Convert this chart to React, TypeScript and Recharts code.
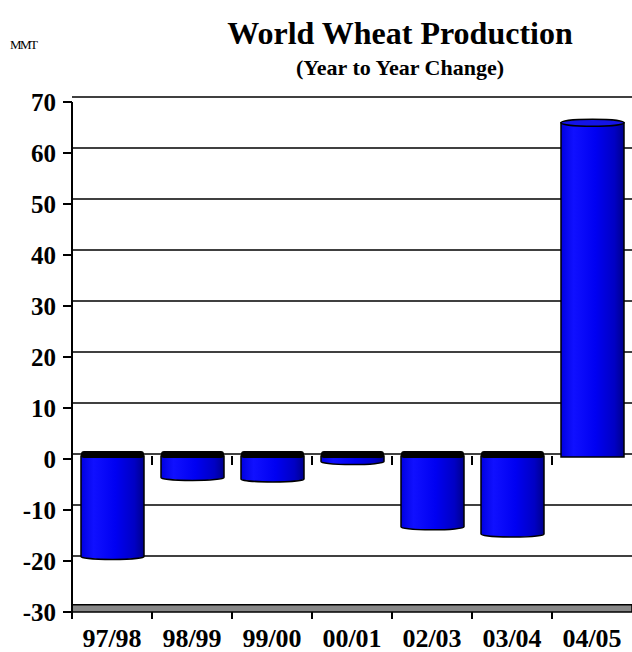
import { BarChart, Bar, XAxis, YAxis, CartesianGrid, ReferenceArea, ReferenceLine } from 'recharts';

const seasons = ['97/98', '98/99', '99/00', '00/01', '02/03', '03/04', '04/05'];
const changeMmt = [-19.5, -4.0, -4.3, -0.9, -13.7, -15.1, 66.5];
const yTicks = [-30, -20, -10, 0, 10, 20, 30, 40, 50, 60, 70];

const data = seasons.map((season, i) => ({ season, change: changeMmt[i] }));

const FONT = '"Liberation Serif", "Times New Roman", serif';

// cylinder-ish bar: gradient body, dark cap on the zero plane for negatives
const CylinderBar = (props: any) => {
  const { x, y, width, height, value } = props;
  if (width == null || height == null) return null;
  const top = Math.min(y, y + height);
  const bottom = Math.max(y, y + height);
  const rx = width / 2;
  if (value < 0) {
    return (
      <g>
        <path
          d={`M${x},${top - 3} L${x},${bottom - 2} A${rx},3 0 0 0 ${x + width},${bottom - 2} L${x + width},${top - 3} Z`}
          fill="url(#cyl)"
          stroke="#000"
          strokeWidth={1.5}
        />
        <rect x={x} y={top - 8} width={width} height={7} rx={3} fill="#000" />
      </g>
    );
  }
  return (
    <g>
      <path
        d={`M${x},${top + 3} L${x},${bottom - 2} L${x + width},${bottom - 2} L${x + width},${top + 3} Z`}
        fill="url(#cyl)"
        stroke="#000"
        strokeWidth={1.5}
      />
      <ellipse cx={x + rx} cy={top + 3} rx={rx} ry={3.5} fill="#1414e6" stroke="#000" strokeWidth={1.5} />
    </g>
  );
};

const SeasonTick = (props: any) => {
  const { x, y, payload } = props;
  const off = payload?.offset || 40;
  return (
    <g>
      <line x1={x - off} x2={x - off} y1={y} y2={y + 7} stroke="#000" strokeWidth={2} />
      <text x={x} y={y + 35} textAnchor="middle" fontFamily={FONT} fontWeight="bold" fontSize={26} fill="#000">
        {payload.value}
      </text>
    </g>
  );
};

const GridLine = (p: any) => (
  <line key={`g-${p.y1}`} x1={p.x1} x2={p.x2} y1={p.y1 - 5} y2={p.y2 - 5} stroke="#000" strokeWidth={1.5} />
);

// little ticks hanging under the zero line, one per category boundary
const ZeroTicks = (p: any) => {
  const n = seasons.length;
  const step = (p.x2 - p.x1) / n;
  return (
    <g>
      {seasons.slice(1).map((s, i) => (
        <line key={s} x1={p.x1 + step * (i + 1)} x2={p.x1 + step * (i + 1)} y1={p.y1 - 3} y2={p.y1 + 6} stroke="#000" strokeWidth={2} />
      ))}
    </g>
  );
};

export default function App() {
  return (
    <div style={{ position: 'absolute', left: 0, top: 0, width: 632, height: 652, background: '#fff', overflow: 'hidden', fontFamily: FONT }}>
      <div style={{ position: 'absolute', left: 10, top: 37, fontSize: 13, letterSpacing: -1.5, color: '#000' }}>MMT</div>
      <div style={{ position: 'absolute', left: 400, top: 15, transform: 'translateX(-50%)', whiteSpace: 'nowrap', fontSize: 32, fontWeight: 'bold', lineHeight: '36px' }}>
        World Wheat Production
      </div>
      <div style={{ position: 'absolute', left: 400, top: 56, transform: 'translateX(-50%)', whiteSpace: 'nowrap', fontSize: 22, fontWeight: 'bold', lineHeight: '24px' }}>
        (Year to Year Change)
      </div>
      <BarChart width={632} height={652} data={data} margin={{ top: 102, right: 0, left: 0, bottom: 0 }} barSize={63}>
        <defs>
          <linearGradient id="cyl" x1="0" y1="0" x2="1" y2="0">
            <stop offset="0" stopColor="#0000e0" />
            <stop offset="0.2" stopColor="#1010ff" />
            <stop offset="0.55" stopColor="#0000f2" />
            <stop offset="0.85" stopColor="#0000c4" />
            <stop offset="1" stopColor="#00008c" />
          </linearGradient>
        </defs>
        <CartesianGrid vertical={false} horizontal={GridLine} />
        <ReferenceArea y1={-30} y2={-28.6} fill="#888" fillOpacity={1} stroke="#000" strokeWidth={1.5} />
        <XAxis
          dataKey="season"
          height={40}
          tickSize={0}
          tickMargin={0}
          axisLine={false}
          tickLine={false}
          interval={0}
          tick={<SeasonTick />}
        />
        <YAxis
          domain={[-30, 70]}
          ticks={yTicks}
          width={72}
          tickSize={9}
          tickMargin={7}
          axisLine={{ stroke: '#000', strokeWidth: 2 }}
          tickLine={{ stroke: '#000', strokeWidth: 2 }}
          tick={{ fontFamily: FONT, fontWeight: 'bold', fontSize: 25, fill: '#000' }}
        />
        <Bar dataKey="change" shape={<CylinderBar />} isAnimationActive={false} />
        <ReferenceLine y={0} stroke="none" shape={<ZeroTicks />} />
      </BarChart>
    </div>
  );
}
